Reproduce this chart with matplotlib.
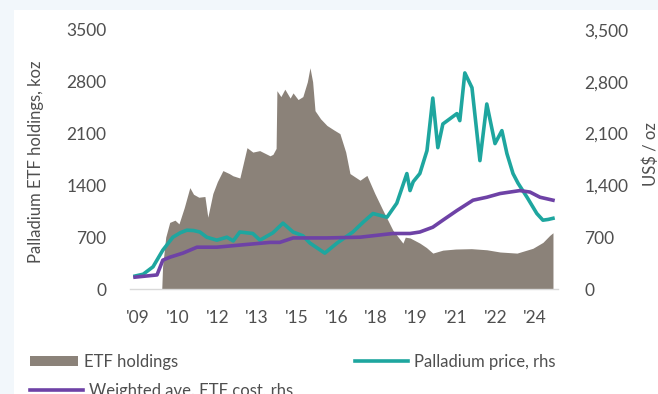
"""Palladium ETF holdings vs price and weighted average ETF cost"""

import matplotlib.pyplot as plt
from matplotlib.patches import Rectangle

plt.rcParams['font.family'] = ['Lato', 'DejaVu Sans']

# ETF holdings (koz), lhs
etf_years = [2009.90, 2009.93, 2010.05, 2010.20, 2010.40, 2010.55, 2010.75, 2010.96,
             2011.10, 2011.30, 2011.53, 2011.64, 2011.83, 2012.00, 2012.21, 2012.45,
             2012.59, 2012.85, 2013.12, 2013.34, 2013.60, 2013.99, 2014.10, 2014.22,
             2014.25, 2014.40, 2014.55, 2014.75, 2014.86, 2015.05, 2015.23, 2015.40,
             2015.50, 2015.60, 2015.69, 2015.90, 2016.14, 2016.40, 2016.63, 2016.85,
             2017.01, 2017.39, 2017.65, 2017.95, 2018.26, 2018.63, 2019.01, 2019.10,
             2019.28, 2019.65, 2019.90, 2020.14, 2020.52, 2021.00, 2021.60, 2022.18,
             2022.68, 2023.32, 2023.92, 2024.30, 2024.56, 2024.68]
etf_koz = [0, 300, 700, 900, 930, 880, 1100, 1370,
           1280, 1240, 1250, 970, 1290, 1450, 1600, 1560,
           1530, 1500, 1910, 1850, 1870, 1800, 1820, 1900,
           2680, 2600, 2700, 2580, 2650, 2560, 2600, 2800,
           2990, 2800, 2410, 2300, 2210, 2150, 2100, 1850,
           1560, 1470, 1535, 1290, 1060, 795, 620, 700,
           690, 620, 560, 485, 525, 540, 545, 530,
           500, 485, 550, 630, 725, 760]

# Palladium price (US$/oz), rhs
price_years = [2008.89, 2009.20, 2009.57, 2009.94, 2010.32, 2010.60, 2010.85, 2011.10,
               2011.34, 2011.60, 2011.98, 2012.36, 2012.60, 2012.85, 2013.34, 2013.61,
               2014.10, 2014.48, 2014.86, 2015.23, 2015.50, 2016.06, 2016.52, 2017.12,
               2017.50, 2017.88, 2018.41, 2018.78, 2019.16, 2019.28, 2019.40, 2019.65,
               2019.92, 2020.14, 2020.33, 2020.52, 2021.05, 2021.16, 2021.35, 2021.62,
               2021.92, 2022.18, 2022.49, 2022.75, 2022.94, 2023.17, 2023.36, 2023.70,
               2024.07, 2024.30, 2024.50, 2024.68]
price_usd = [175, 200, 300, 525, 700, 760, 795, 790,
             770, 700, 660, 700, 650, 770, 750, 660,
             760, 890, 770, 720, 620, 485, 620, 770,
             900, 1020, 970, 1160, 1560, 1330, 1450, 1560,
             1870, 2580, 1910, 2230, 2370, 2275, 2920, 2720,
             1735, 2500, 1965, 2140, 1830, 1560, 1430, 1240,
             1020, 930, 940, 955]

# Weighted average ETF cost (US$/oz), rhs
cost_years = [2008.89, 2009.72, 2009.94, 2010.21, 2010.70, 2011.23, 2011.98, 2012.74,
              2013.99, 2014.36, 2014.86, 2016.14, 2017.39, 2018.63, 2019.28, 2019.65,
              2020.14, 2020.52, 2021.05, 2021.66, 2022.18, 2022.68, 2023.43, 2023.81,
              2024.19, 2024.68]
cost_usd = [160, 190, 390, 430, 485, 565, 565, 590,
            630, 630, 690, 690, 700, 750, 750, 770,
            835, 930, 1060, 1200, 1240, 1290, 1330, 1310,
            1240, 1200]

tick_pos = [2009.0, 2010.5, 2012.0, 2013.5, 2015.0, 2016.5, 2018.0, 2019.5, 2021.0, 2022.5, 2024.0]
tick_labels = ["'09", "'10", "'12", "'13", "'15", "'16", "'18", "'19", "'21", "'22", "'24"]
y_ticks = [0, 700, 1400, 2100, 2800, 3500]

grey_txt = '#4f4f4f'
c_etf = '#8b8279'
c_price = '#1ea69f'
c_cost = '#6e42a6'

fig = plt.figure(figsize=(6.58, 3.94), dpi=100, facecolor='#f2f7fb')
# white panel
fig.add_artist(Rectangle((14 / 658, 0), 1, (394 - 10) / 394, transform=fig.transFigure,
                         facecolor='white', edgecolor='none', zorder=-10))

ax = fig.add_axes([130 / 658, 1 - 289 / 394, 428 / 658, 259 / 394])
ax.patch.set_visible(False)
ax.fill_between(etf_years, etf_koz, color=c_etf, lw=0, label='ETF holdings')
ax.set_xlim(2008.70, 2024.87)
ax.set_ylim(0, 3500)
ax.set_yticks(y_ticks)
ax.set_yticklabels([str(v) for v in y_ticks])
ax.set_xticks(tick_pos)
ax.set_xticklabels(tick_labels)
ax.tick_params(axis='y', length=0, pad=17, labelsize=12.5, labelcolor=grey_txt)
ax.tick_params(axis='x', length=0, pad=15, labelsize=12.5, labelcolor=grey_txt)
ax.set_ylabel('Palladium ETF holdings, koz', fontsize=12, color=grey_txt)
ax.yaxis.set_label_coords(-86 / 428, 0.49)
for s in ['top', 'left', 'right']:
    ax.spines[s].set_visible(False)
ax.spines['bottom'].set_color('#d9d9d9')
ax.spines['bottom'].set_linewidth(1)

ax2 = ax.twinx()
ln_price, = ax2.plot(price_years, price_usd, color=c_price, lw=2.6, label='Palladium price, rhs')
ln_cost, = ax2.plot(cost_years, cost_usd, color=c_cost, lw=2.6, label='Weighted ave. ETF cost, rhs')
ax2.set_ylim(0, 3500)
ax2.set_yticks(y_ticks)
ax2.set_yticklabels([f'{v:,}' for v in y_ticks])
ax2.tick_params(axis='y', length=0, pad=19, labelsize=12.5, labelcolor=grey_txt)
ax2.set_ylabel('US$ / oz', fontsize=12, color=grey_txt, rotation=90)
ax2.yaxis.set_label_coords(1 + 84 / 428, 0.52)
for s in ax2.spines.values():
    s.set_visible(False)

# legend entries, laid out like the original
h_etf = ax.collections[0]
leg_kw = dict(loc='center left', frameon=False, borderpad=0, borderaxespad=0,
              fontsize=12, labelcolor=grey_txt, handletextpad=0.35)
fig.legend([h_etf], ['ETF holdings'], bbox_to_anchor=(30 / 658, 1 - 362 / 394),
           handlelength=2.9, handleheight=0.6, **leg_kw)
fig.legend([ln_price], ['Palladium price, rhs'], bbox_to_anchor=(355 / 658, 1 - 362 / 394),
           handlelength=3.2, **leg_kw)
fig.legend([ln_cost], ['Weighted ave. ETF cost, rhs'], bbox_to_anchor=(30 / 658, 1 - 391 / 394),
           handlelength=3.2, **leg_kw)

fig.savefig('out.png', dpi=100, facecolor=fig.get_facecolor())
